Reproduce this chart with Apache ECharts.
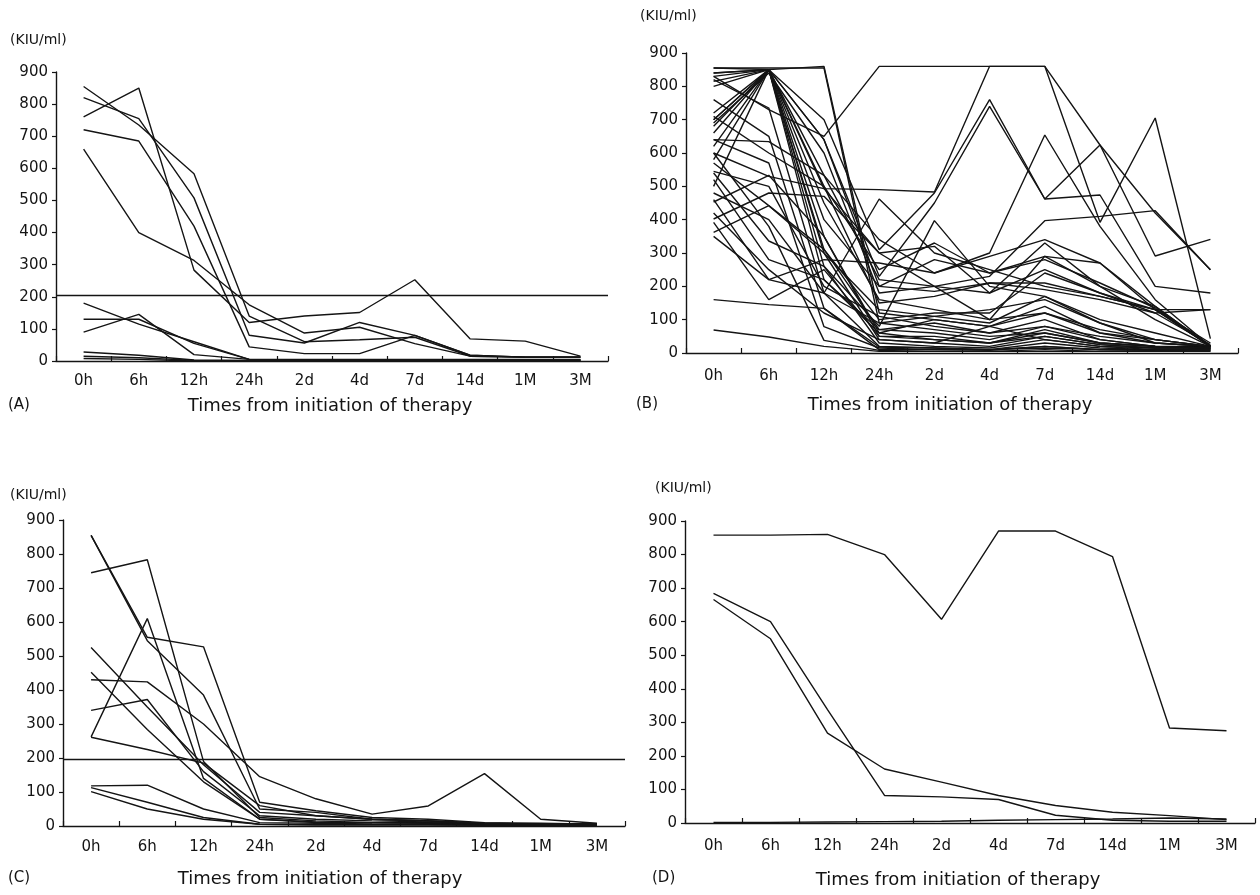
<!DOCTYPE html>
<html>
<head>
<meta charset="utf-8">
<script src="https://cdn.jsdelivr.net/npm/echarts@6/dist/echarts.min.js"></script>
<style>
html,body{margin:0;padding:0;background:#fff;}
#c{width:1260px;height:895px;}
</style>
</head>
<body>
<div id="c"></div>
<script>
// ---- categories ----
var categories = ['0h','6h','12h','24h','2d','4d','7d','14d','1M','3M'];
var yTicks = [0,100,200,300,400,500,600,700,800,900];
var cutoffA = 205;
var cutoffC = 195;

// ---- panel A (KIU/ml) ----
var panelA = [
  [855, 735, 583, 140, 60, 66, 74, 15, 12, 12],
  [760, 850, 283, 120, 140, 151, 253, 69, 62, 15],
  [820, 755, 508, 80, 56, 120, 80, 18, 12, 12],
  [720, 685, 420, 44, 23, 23, 80, 18, 12, 12],
  [660, 400, 313, 175, 87, 105, 54, 15, 12, 12],
  [180, 115, 60, 5, 5, 5, 5, 5, 5, 5],
  [130, 130, 55, 5, 4, 4, 4, 4, 4, 4],
  [90, 145, 20, 5, 3, 3, 3, 3, 3, 3],
  [28, 18, 3, 2, 2, 2, 2, 2, 2, 2],
  [15, 10, 2, 1, 1, 1, 1, 1, 1, 1],
  [8, 5, 0, 0, 0, 0, 0, 0, 0, 0]
];

// ---- panel B (KIU/ml) ----
var panelB = [
  [855, 855, 855, 90, 70, 50, 60, 30, 20, 20],
  [830, 730, 650, 860, 860, 860, 860, 624, 291, 341],
  [815, 850, 493, 490, 483, 860, 860, 392, 705, 43],
  [840, 850, 700, 310, 480, 760, 462, 624, 420, 250],
  [720, 850, 640, 230, 450, 740, 462, 474, 200, 180],
  [700, 850, 533, 340, 240, 300, 654, 380, 160, 20],
  [690, 840, 600, 180, 200, 230, 397, 410, 427, 250],
  [660, 850, 500, 250, 330, 240, 290, 270, 130, 20],
  [640, 634, 533, 220, 200, 180, 330, 200, 140, 20],
  [620, 850, 450, 160, 130, 100, 290, 200, 100, 20],
  [600, 530, 493, 300, 320, 180, 250, 180, 120, 130],
  [580, 850, 400, 200, 185, 210, 210, 170, 130, 130],
  [570, 442, 311, 100, 120, 120, 240, 180, 130, 30],
  [540, 336, 260, 80, 397, 200, 170, 100, 60, 20],
  [520, 280, 220, 60, 100, 80, 140, 60, 40, 20],
  [500, 850, 311, 70, 60, 40, 80, 40, 20, 15],
  [460, 220, 180, 462, 300, 250, 200, 170, 130, 20],
  [453, 533, 350, 50, 50, 30, 60, 30, 20, 15],
  [402, 480, 470, 300, 200, 100, 120, 60, 30, 20],
  [392, 160, 250, 50, 40, 30, 50, 25, 15, 15],
  [362, 442, 300, 130, 110, 90, 170, 90, 40, 20],
  [160, 145, 134, 18, 15, 10, 15, 10, 10, 10],
  [69, 48, 20, 5, 5, 5, 5, 5, 5, 5],
  [855, 850, 260, 30, 20, 15, 40, 20, 15, 15],
  [840, 850, 300, 40, 30, 20, 50, 25, 15, 15],
  [830, 850, 350, 60, 40, 30, 70, 30, 20, 15],
  [820, 735, 180, 20, 15, 10, 30, 15, 10, 10],
  [800, 850, 220, 70, 90, 60, 100, 40, 20, 15],
  [760, 650, 134, 10, 10, 8, 20, 10, 8, 8],
  [640, 570, 79, 15, 10, 10, 20, 10, 8, 8],
  [600, 380, 38, 8, 5, 5, 10, 5, 5, 5],
  [545, 500, 200, 110, 80, 60, 80, 50, 30, 20],
  [480, 400, 180, 90, 110, 130, 160, 90, 30, 20],
  [420, 250, 120, 40, 30, 80, 40, 20, 10, 10],
  [350, 220, 280, 270, 240, 290, 340, 270, 140, 20],
  [700, 850, 860, 120, 100, 80, 120, 70, 40, 20],
  [710, 600, 500, 150, 170, 210, 190, 160, 120, 25],
  [680, 850, 640, 200, 280, 240, 280, 210, 135, 20]
];

// ---- panel C (KIU/ml) ----
var panelC = [
  [855, 555, 527, 70, 45, 25, 20, 10, 8, 5],
  [855, 545, 385, 50, 40, 20, 15, 8, 5, 5],
  [745, 783, 190, 25, 15, 10, 10, 5, 5, 5],
  [262, 610, 140, 20, 10, 10, 8, 5, 5, 5],
  [525, 350, 180, 40, 30, 20, 15, 8, 5, 5],
  [452, 284, 130, 20, 12, 10, 8, 5, 5, 5],
  [430, 424, 300, 145, 80, 35, 59, 154, 20, 8],
  [340, 372, 160, 30, 20, 15, 12, 6, 5, 5],
  [261, 225, 185, 60, 30, 20, 15, 8, 5, 5],
  [118, 120, 50, 10, 8, 6, 5, 4, 4, 4],
  [113, 70, 25, 5, 4, 4, 4, 3, 3, 3],
  [101, 50, 20, 5, 3, 3, 3, 2, 2, 2]
];

// ---- panel D (KIU/ml) ----
var panelD = [
  [858, 858, 860, 800, 607, 870, 870, 794, 283, 275],
  [684, 600, 338, 82, 78, 70, 23, 8, 5, 5],
  [666, 549, 268, 161, 122, 82, 52, 32, 22, 10],
  [2, 2, 3, 4, 5, 8, 10, 12, 15, 12]
];

// ---- layout ----
var FONT = 'DejaVu Sans, sans-serif';
var INK = '#141414';
var grids = [
  {left: 56, top: 72, width: 552, height: 289},
  {left: 686, top: 53, width: 552, height: 300},
  {left: 63, top: 520, width: 562, height: 306},
  {left: 685, top: 521, width: 570, height: 302}
];
var xMargins = [13, 16, 14, 16];

var xAxes = grids.map(function(g, i){
  return {
    type: 'category', gridIndex: i, data: categories, boundaryGap: true,
    axisLine: {show: true, lineStyle: {color: INK, width: 1.4}},
    axisTick: {show: true, inside: true, length: 5, alignWithLabel: false, lineStyle: {color: INK, width: 1.2}},
    axisLabel: {color: INK, fontSize: 15, fontFamily: FONT, margin: xMargins[i]},
    splitLine: {show: false}
  };
});
var yAxes = grids.map(function(g, i){
  return {
    type: 'value', gridIndex: i, min: 0, max: 900, interval: 100,
    axisLine: {show: true, lineStyle: {color: INK, width: 1.4}},
    axisTick: {show: true, length: 4, lineStyle: {color: INK, width: 1.2}},
    axisLabel: {color: INK, fontSize: 15, fontFamily: FONT, margin: 8,
      formatter: function(v){ return yTicks.indexOf(v) >= 0 ? String(v) : ''; }},
    splitLine: {show: false}
  };
});

var series = [];
function addPanel(arr, idx, cutoff){
  arr.forEach(function(vals, k){
    var s = {
      type: 'line', xAxisIndex: idx, yAxisIndex: idx, data: vals,
      showSymbol: false, symbol: 'none', silent: true, animation: false,
      lineStyle: {color: INK, width: 1.4}
    };
    if (k === 0 && cutoff != null) {
      s.markLine = {
        silent: true, symbol: 'none', animation: false,
        label: {show: false},
        lineStyle: {color: INK, width: 1.4, type: 'solid'},
        data: [{yAxis: cutoff}]
      };
    }
    series.push(s);
  });
}
addPanel(panelA, 0, cutoffA);
addPanel(panelB, 1, null);
addPanel(panelC, 2, cutoffC);
addPanel(panelD, 3, null);

function txt(t, left, top, size, align){
  return {text: t, left: left, top: top, textAlign: align || 'left',
    textStyle: {fontSize: size, fontWeight: 'normal', color: INK, fontFamily: FONT}, padding: 0};
}
var titles = [
  txt('(KIU/ml)', 10, 33, 14),
  txt('(KIU/ml)', 640, 9, 14),
  txt('(KIU/ml)', 10, 488, 14),
  txt('(KIU/ml)', 655, 481, 14),
  txt('(A)', 8, 398, 15),
  txt('(B)', 636, 397, 15),
  txt('(C)', 8, 871, 15),
  txt('(D)', 652, 871, 15),
  txt('Times from initiation of therapy', 330, 397, 18, 'center'),
  txt('Times from initiation of therapy', 950, 396, 18, 'center'),
  txt('Times from initiation of therapy', 320, 870, 18, 'center'),
  txt('Times from initiation of therapy', 958, 871, 18, 'center')
];

var chart = echarts.init(document.getElementById('c'), null, {renderer: 'canvas'});
chart.setOption({
  backgroundColor: '#ffffff',
  animation: false,
  title: titles,
  grid: grids,
  xAxis: xAxes,
  yAxis: yAxes,
  series: series
});
</script>
</body>
</html>
